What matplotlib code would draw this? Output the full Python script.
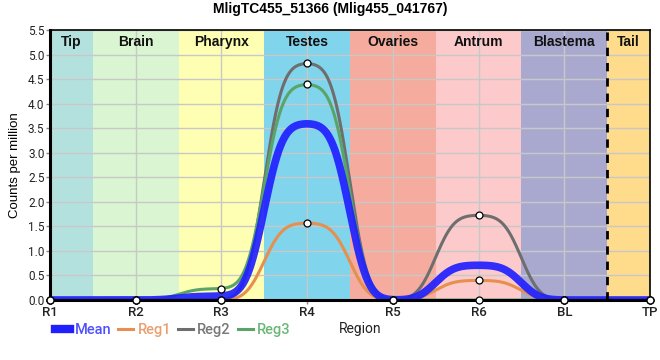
import numpy as np
import matplotlib
matplotlib.use("Agg")
import matplotlib.pyplot as plt
from matplotlib.lines import Line2D

# ---- data ----
regions_x = ["R1", "R2", "R3", "R4", "R5", "R6", "BL", "TP"]
reg1 = [0.0, 0.0, 0.0, 1.57, 0.0, 0.40, 0.0, 0.0]
reg2 = [0.0, 0.0, 0.0, 4.83, 0.0, 1.73, 0.0, 0.0]
reg3 = [0.0, 0.0, 0.23, 4.40, 0.0, 0.0, 0.0, 0.0]
mean = list(np.mean([reg1, reg2, reg3], axis=0))

band_names = ["Tip", "Brain", "Pharynx", "Testes", "Ovaries", "Antrum", "Blastema", "Tail"]
band_edges = [0, 0.5, 1.5, 2.5, 3.5, 4.5, 5.5, 6.5, 7]
band_colors = ["#b3e2de", "#d9f5d1", "#ffffb3", "#80d4ec", "#f5ab9d", "#fdcacb", "#a9a9d0", "#ffdb8c"]

col_mean = "#2020ff"
col_reg1 = "#e5904f"
col_reg2 = "#6e6e6e"
col_reg3 = "#5aa469"

STEP = 0.004
SIGMA = 0.17


def smooth_curve(vals):
    """Smoothed step profile: each value held over its region, gaussian blurred."""
    vals = np.asarray(vals, float)
    n = len(vals)
    xf = np.arange(-1.5, n + 0.5 + STEP / 2, STEP)
    idx = np.clip(np.round(xf).astype(int), 0, n - 1)
    yf = vals[idx]
    kx = np.arange(-4 * SIGMA, 4 * SIGMA + STEP / 2, STEP)
    k = np.exp(-0.5 * (kx / SIGMA) ** 2)
    k /= k.sum()
    ys = np.convolve(yf, k, mode="same")
    m = (xf >= 0) & (xf <= n - 1)
    return xf[m], ys[m]


fig = plt.figure(figsize=(6.6, 3.6), dpi=100)
ax = fig.add_axes([50 / 660, 1 - 300 / 360, 600 / 660, 270 / 360])

xi = np.arange(len(regions_x))

for i, (nm, c) in enumerate(zip(band_names, band_colors)):
    ax.axvspan(band_edges[i], band_edges[i + 1], color=c, lw=0, zorder=0)
    ax.text((band_edges[i] + band_edges[i + 1]) / 2, 5.26, nm, ha="center", va="center",
            fontsize=10, fontweight="bold", family="Liberation Sans", color="#111111", zorder=5)

ax.set_xlim(0, 7)
ax.set_ylim(0, 5.5)
ax.set_yticks(np.arange(0, 5.51, 0.5))
ax.set_yticklabels([f"{v:.1f}" for v in np.arange(0, 5.51, 0.5)])
ax.set_xticks(xi)
ax.set_xticklabels(regions_x)
ax.grid(True, color="#c8c8c8", lw=1, zorder=1)
ax.set_axisbelow(False)

ax.axvline(6.5, color="black", lw=2, ls=(0, (3, 2.5)), zorder=6)

for vals, c in [(reg1, col_reg1), (reg2, col_reg2), (reg3, col_reg3)]:
    xc, yc = smooth_curve(vals)
    ax.plot(xc, yc, color=c, lw=2.2, zorder=3, solid_capstyle="butt")
xc, yc = smooth_curve(mean)
ax.plot(xc, yc, color=col_mean, lw=5.5, alpha=0.92, zorder=4, solid_capstyle="butt")
for vals in [reg1, reg2, reg3]:
    ax.plot(xi, vals, ls="none", marker="o", ms=5, mfc="white", mec="black", mew=0.9,
            zorder=7, clip_on=False)

for sp in ["left", "bottom"]:
    ax.spines[sp].set_linewidth(2.2)
for sp in ["right", "top"]:
    ax.spines[sp].set_linewidth(1.2)
for sp in ax.spines.values():
    sp.set_zorder(6)

ax.tick_params(axis="both", length=3, width=1, color="#888888", labelcolor="#222222")
ax.tick_params(axis="x", labelsize=9.5, pad=1)
ax.tick_params(axis="y", labelsize=8.5, pad=1)
for lab in ax.get_xticklabels() + ax.get_yticklabels():
    lab.set_family("Roboto")
for lab in ax.get_xticklabels():
    lab.set_fontweight("medium")

ax.set_ylabel("Counts per million", fontsize=9.5, family="Liberation Sans", labelpad=5)
fig.text(360 / 660, 1 - 329 / 360, "Region", ha="center", va="center", fontsize=10,
         family="Roboto", color="#222222")
fig.text(330 / 660, 1 - 9 / 360, "MligTC455_51366 (Mlig455_041767)", ha="center", va="center",
         fontsize=10, fontweight="bold", family="Liberation Sans")

handles = [Line2D([], [], color=col_mean, lw=6),
           Line2D([], [], color=col_reg1, lw=2.2),
           Line2D([], [], color=col_reg2, lw=2.2),
           Line2D([], [], color=col_reg3, lw=2.2)]
leg = fig.legend(handles, ["Mean", "Reg1", "Reg2", "Reg3"], loc="center left",
                 bbox_to_anchor=(55 / 660, 1 - 330 / 360), ncol=4, frameon=False,
                 handlelength=1.05, handletextpad=0.3, columnspacing=0.45,
                 prop={"family": "Roboto", "size": 10.5, "weight": "medium"},
                 borderaxespad=0, borderpad=0)
for t, c in zip(leg.get_texts(), ["#5050ff", "#e8a070", "#777777", "#6ab878"]):
    t.set_color(c)

fig.savefig("out.png", dpi=100)
